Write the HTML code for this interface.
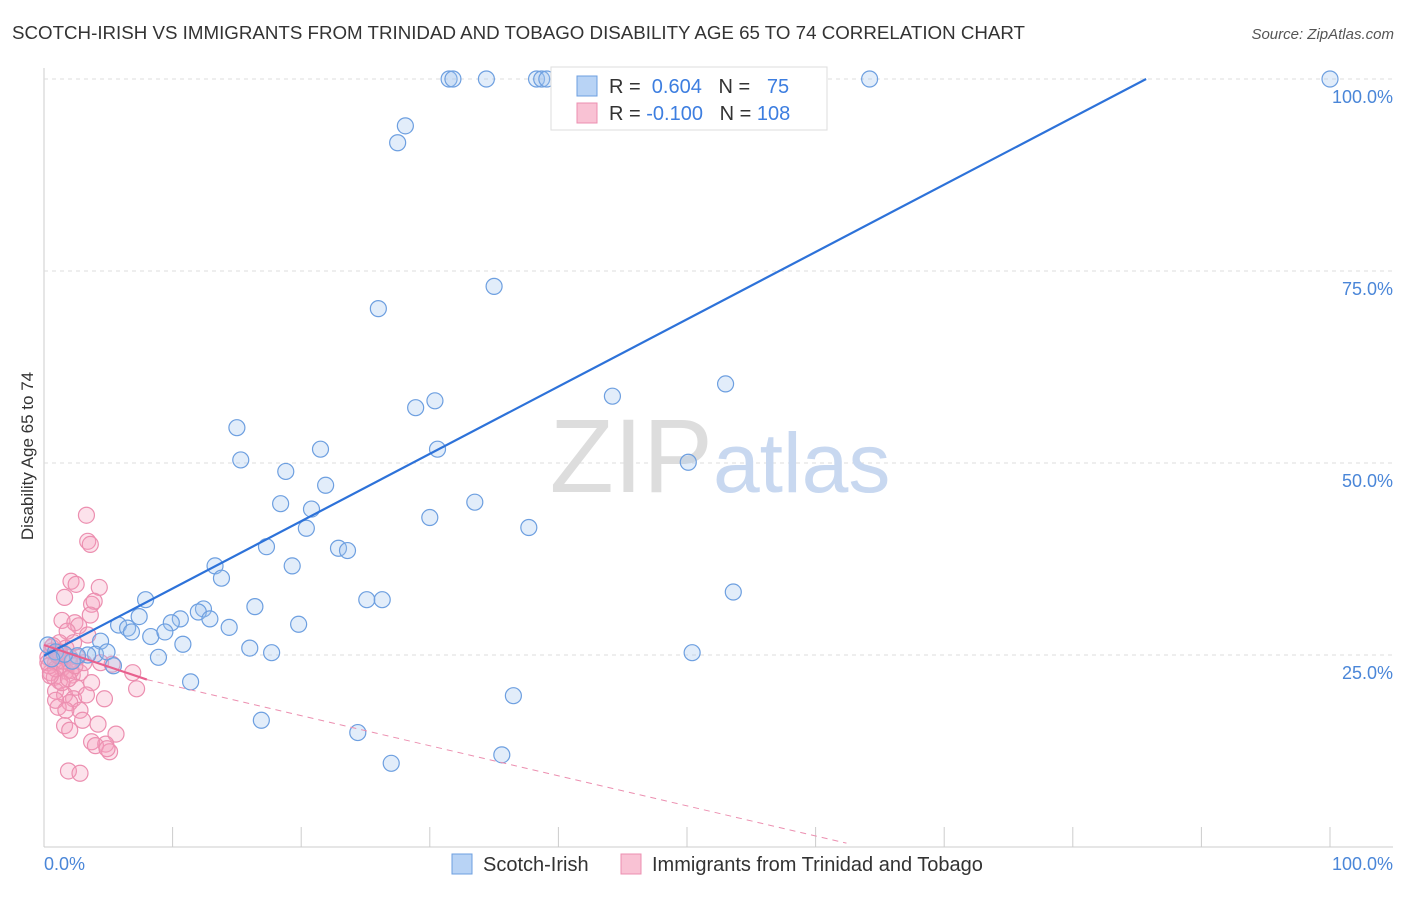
<!DOCTYPE html>
<html><head><meta charset="utf-8"><style>
body{margin:0;background:#fff;font-family:"Liberation Sans",sans-serif;}
svg text{font-family:"Liberation Sans",sans-serif;}
</style></head><body>
<svg id="chart" width="1406" height="892" xmlns="http://www.w3.org/2000/svg">
<text x="12" y="39" font-size="18" fill="#333" textLength="1013" lengthAdjust="spacingAndGlyphs">SCOTCH-IRISH VS IMMIGRANTS FROM TRINIDAD AND TOBAGO DISABILITY AGE 65 TO 74 CORRELATION CHART</text>
<text x="1394" y="39" font-size="15" fill="#555" text-anchor="end" font-style="italic">Source: ZipAtlas.com</text>
<g id="grid"></g>
<text x="720" y="492" font-size="105" fill="#ddd" text-anchor="middle" font-family="Liberation Serif">ZIP<tspan fill="#c8d8f0" font-family="Liberation Sans" font-size="84">atlas</tspan></text>
<g id="pts"></g>
<g id="lines"></g>
<text transform="translate(33,456) rotate(-90)" font-size="17" fill="#333" text-anchor="middle">Disability Age 65 to 74</text>
<g>
<rect x="551" y="67" width="276" height="63" fill="#fff" stroke="#ddd"/>
<rect x="577" y="76" width="20" height="20" fill="#b8d3f5" stroke="#6d9fe0"/>
<rect x="577" y="103" width="20" height="20" fill="#f9c2d4" stroke="#ec8fb0"/>
<text x="609" y="93" font-size="20" fill="#333">R = <tspan fill="#3d7ee0">&#160;0.604</tspan>&#160;&#160;&#160;N = <tspan fill="#3d7ee0">&#160;&#160;75</tspan></text>
<text x="609" y="120" font-size="20" fill="#333">R = <tspan fill="#3d7ee0">-0.100</tspan>&#160;&#160;&#160;N = <tspan fill="#3d7ee0">108</tspan></text>
</g>
<g>
<rect x="452" y="854" width="20" height="20" fill="#b8d3f5" stroke="#6d9fe0"/>
<text x="483" y="871" font-size="20" fill="#333">Scotch-Irish</text>
<rect x="621" y="854" width="20" height="20" fill="#f9c2d4" stroke="#ec8fb0"/>
<text x="652" y="871" font-size="20" fill="#333">Immigrants from Trinidad and Tobago</text>
</g>
</svg>
<script>
const blueX=[31.5,31.8,34.4,38.3,38.7,39.1,64.2,100,28.1,27.5,35,26,53,44.2,28.9,30.4,15,21.5,30.6,15.3,50.1,18.8,21.9,18.4,20.8,20.4,33.5,30,37.7,17.3,22.9,23.6,13.3,13.8,19.3,53.6,7.9,25.1,26.3,16.4,12.4,12,7.4,12.9,10.6,9.9,5.8,6.5,6.8,14.4,19.8,8.3,9.4,4.4,10.8,16,17.7,50.4,4,4.9,3.4,2.6,0.3,0.9,8.9,2.2,5.4,11.4,36.5,16.9,24.4,35.6,27,1.6,0.6];
const blueY=[100,100,100,100,100,100,100,100,93.9,91.7,73,70.1,60.3,58.7,57.2,58.1,54.6,51.8,51.8,50.4,50.1,48.9,47.1,44.7,44,41.5,44.9,42.9,41.6,39.1,38.9,38.6,36.6,35,36.6,33.2,32.2,32.2,32.2,31.3,31,30.6,30,29.7,29.7,29.2,28.9,28.5,28,28.6,29,27.4,28,26.8,26.4,25.9,25.3,25.3,25.1,25.4,25,24.9,26.3,25.4,24.7,24.2,23.6,21.5,19.7,16.5,14.9,12,10.9,25.1,24.5];
const pinkX=[3.3,3.4,3.6,2.1,4.3,2.5,1.6,3.7,3.9,1.4,2.4,2.7,3.6,1.8,3.4,0.6,1.1,2,0.3,0.9,1.4,1.7,0.5,0.8,1.2,2.2,2.8,4.4,5.3,6.9,3.7,2.5,0.9,1.6,2.3,3.3,4.7,2,1.1,2.8,3,4.2,1.6,2,5.6,3.7,4.8,4,5.1,1.9,2.8,7.2,0.3,0.6,1.2,1.7,2.3,3.1,1.4,0.9,2,2.6,0.9,1.7,4.9,1,1.5,0.4,0.7,1.2,2.1,0.5,1.9,1.1,2.4];
const pinkY=[43.2,39.8,39.4,34.6,33.8,34.2,32.5,31.6,32,29.5,29.2,28.8,30.2,28.1,27.6,26,25.4,24.7,24.7,24,23.3,22.9,22.7,22.1,21.6,22.4,22.7,24,23.8,22.7,21.4,20.8,20.3,19.8,19.3,19.8,19.3,18.8,18.2,17.8,16.5,16,15.8,15.2,14.7,13.7,13.4,13.2,12.4,9.9,9.6,20.6,24,25.5,26.6,25.9,26.6,24,21.4,23.2,24,24.7,19.1,17.8,12.8,25.1,24.2,23.6,26.2,25.4,23,22.3,21.9,24.9,23.6];
const xTicks=[0,10,20,30,40,50,60,70,80,90,100];
const yTicks=[25,50,75,100];
const yTickLabels=["25.0%","50.0%","75.0%","100.0%"];
const blueLine=[0,24.9,85.7,100];
const pinkLine=[0,26.3,8,21.8,62.4,0.5];
const L=44,W=1286,B=847,H=768;
const sx=v=>L+W*v/100, sy=v=>B-H*v/100;
const NS="http://www.w3.org/2000/svg";
function mk(t,a,p){const e=document.createElementNS(NS,t);for(const k in a)e.setAttribute(k,a[k]);p.appendChild(e);return e;}
const g=document.getElementById('grid');
const ax=mk('line',{x1:44,y1:847,x2:1393,y2:847,stroke:'#ccc'},g);


const ay=mk('line',{x1:44,y1:68,x2:44,y2:847,stroke:'#ccc'},g);


yTicks.forEach((t,i)=>{
 const l=mk('line',{x1:44,x2:1393,y1:sy(t),y2:sy(t),stroke:'#ddd','stroke-dasharray':'4,4'},g);
 
 
 const tx=mk('text',{x:1393,y:sy(t)+24,'font-size':18,fill:'#4a86d8','text-anchor':'end'},g);
 tx.textContent=yTickLabels[i];
 
 
});
xTicks.forEach(t=>{
 const l=mk('line',{x1:sx(t),x2:sx(t),y1:827,y2:847,stroke:'#ccc'},g);
 
 
});
const x0=mk('text',{x:44,y:870,'font-size':18,fill:'#4a86d8'},g);x0.textContent='0.0%';


const x1=mk('text',{x:1393,y:870,'font-size':18,fill:'#4a86d8','text-anchor':'end'},g);x1.textContent='100.0%';


const p=document.getElementById('pts');
pinkX.forEach((x,i)=>{
 const c=mk('circle',{cx:sx(x),cy:sy(pinkY[i]),r:8,fill:'rgba(245,160,190,0.3)',stroke:'#ec8fb0','stroke-width':1.2},p);
 
 
});
blueX.forEach((x,i)=>{
 const c=mk('circle',{cx:sx(x),cy:sy(blueY[i]),r:8,fill:'rgba(160,195,240,0.3)',stroke:'#6d9fe0','stroke-width':1.2},p);
 
 
});
const ln=document.getElementById('lines');
const bl=mk('line',{x1:sx(blueLine[0]),y1:sy(blueLine[1]),x2:sx(blueLine[2]),y2:sy(blueLine[3]),stroke:'#2d72d9','stroke-width':2.2},ln);


const pl=mk('line',{x1:sx(pinkLine[0]),y1:sy(pinkLine[1]),x2:sx(pinkLine[2]),y2:sy(pinkLine[3]),stroke:'#e8608e','stroke-width':2.2},ln);


const pd=mk('line',{x1:sx(pinkLine[2]),y1:sy(pinkLine[3]),x2:sx(pinkLine[4]),y2:sy(pinkLine[5]),stroke:'#ec8fb0','stroke-width':1,'stroke-dasharray':'6,5'},ln);


</script>
</body></html>
